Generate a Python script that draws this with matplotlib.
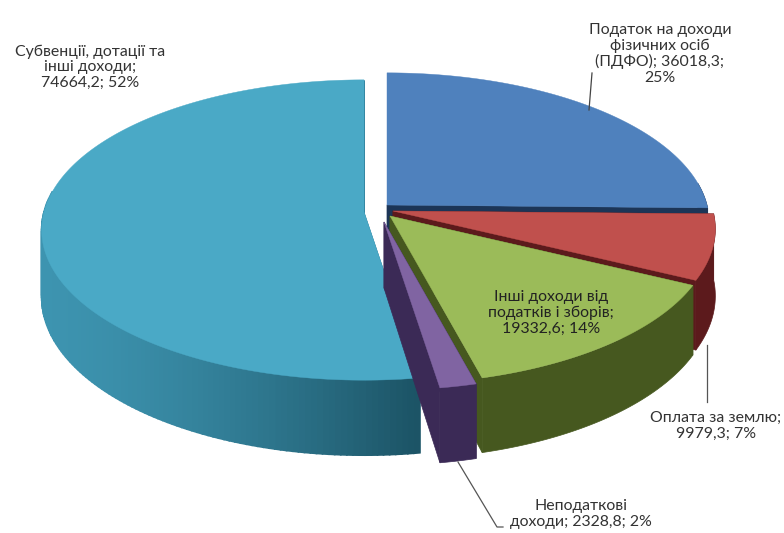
import numpy as np
import matplotlib
matplotlib.use("Agg")
import matplotlib.pyplot as plt
from matplotlib.patches import Polygon

plt.rcParams["font.family"] = ["Lato", "DejaVu Sans"]

values = [36018.3, 9979.3, 19332.6, 2328.8, 74664.2]
labels = [
    "Податок на доходи\nфізичних осіб\n(ПДФО); 36018,3;\n25%",
    "Оплата за землю;\n9979,3; 7%",
    "Інші доходи від\nподатків і зборів;\n19332,6; 14%",
    "Неподаткові\nдоходи; 2328,8; 2%",
    "Субвенції, дотації та\nінші доходи;\n74664,2; 52%",
]
top_colors = ["#4f81bd", "#c0504d", "#9bbb59", "#8064a2", "#4aa9c6"]
wall_colors = ["#1c3557", "#5c1a1c", "#46581f", "#3b2a56", "#2f7f9a"]

# pixel position of each slice's apex
apex = [(387, 205), (393, 211), (390, 216), (384, 222), (364, 212)]
label_pos = [(660, 54), (716, 426), (551, 313), (581, 514), (90, 67)]

R, RY, P, H = 320, 148, 0.12, 66


def project(ang, r, z, ax0, ay0):
    x = np.sin(ang) * r
    y = -np.cos(ang) * r
    s = 1 / (1 - P * y)
    return ax0 + R * x * s, ay0 + (RY * y + H * z) * s


fig = plt.figure(figsize=(7.84, 5.33), dpi=100)
ax = fig.add_axes([0, 0, 1, 1])
ax.set_xlim(0, 784)
ax.set_ylim(533, 0)
ax.axis("off")

edges = np.concatenate([[0], np.cumsum(values)]) / sum(values) * 2 * np.pi
order = [0, 4, 1, 2, 3]  # back to front

for i in order:
    a0, a1 = edges[i], edges[i + 1]
    cx, cy = apex[i]
    angs = np.linspace(a0, a1, max(int((a1 - a0) * 60), 4))
    # cut walls
    for a in (a0, a1):
        pts = [project(a, 0, 0, cx, cy), project(a, 1, 0, cx, cy),
               project(a, 1, 1, cx, cy), project(a, 0, 1, cx, cy)]
        ax.add_patch(Polygon(pts, fc=wall_colors[i], ec=wall_colors[i], lw=0.5))
    # outer wall
    front = angs[np.cos(angs) < 0.15]
    if i == 4:
        # the big slice gets darker towards the front, so it goes in strips
        for a, b in zip(front[:-1], front[1:]):
            t = np.clip((project(a, 1, 0, cx, cy)[0] - 40) / 377, 0, 1) ** 1.5
            color = np.array([0.24, 0.58, 0.69]) * (1 - t) + np.array([0.11, 0.33, 0.40]) * t
            pts = [project(a, 1, 0, cx, cy), project(b, 1, 0, cx, cy),
                   project(b, 1, 1, cx, cy), project(a, 1, 1, cx, cy)]
            ax.add_patch(Polygon(pts, fc=color, ec=color, lw=1.2))
    elif len(front) > 1:
        pts = [project(a, 1, 0, cx, cy) for a in front] + [project(a, 1, 1, cx, cy) for a in front[::-1]]
        ax.add_patch(Polygon(pts, fc=wall_colors[i], ec=wall_colors[i], lw=0.5))
    # top face
    pts = [(cx, cy)] + [project(a, 1, 0, cx, cy) for a in angs]
    ax.add_patch(Polygon(pts, fc=top_colors[i], ec=top_colors[i], lw=0.3))

# leader lines
ax.plot([592, 589], [73, 110], color="#444444", lw=0.9)
ax.plot([707, 707], [345, 402], color="#555555", lw=0.9)
ax.plot([458, 497, 503], [462, 527, 527], color="#555555", lw=0.9)

for i, text in enumerate(labels):
    ax.text(label_pos[i][0], label_pos[i][1], text, ha="center", va="center",
            fontsize=11.4, color="#222222" if i == 2 else "#333333", linespacing=1.13)

fig.savefig("out.png", dpi=100)
